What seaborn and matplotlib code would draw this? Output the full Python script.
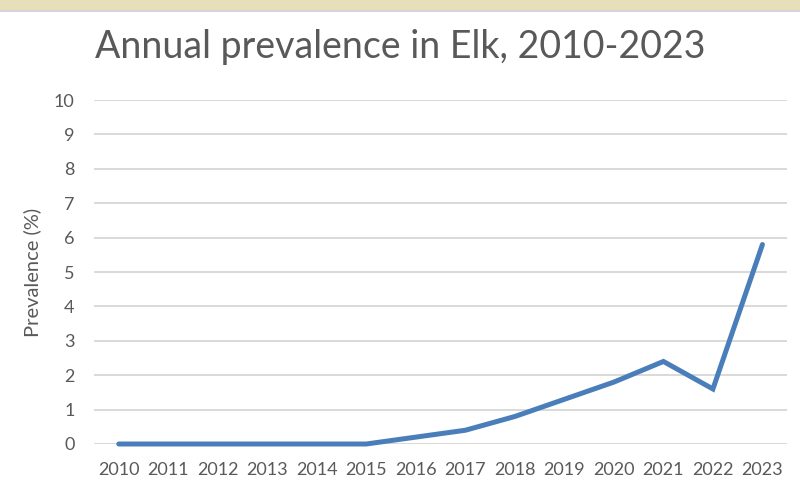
import matplotlib
matplotlib.use("Agg")
import matplotlib.pyplot as plt
from matplotlib.patches import Rectangle
import seaborn as sns
import pandas as pd

years = ["2010", "2011", "2012", "2013", "2014", "2015", "2016",
         "2017", "2018", "2019", "2020", "2021", "2022", "2023"]
prevalence = [0, 0, 0, 0, 0, 0, 0.2, 0.4, 0.8, 1.3, 1.8, 2.4, 1.6, 5.8]
y_ticks = list(range(0, 11))

df = pd.DataFrame({"year": years, "prevalence": prevalence})

sns.set_theme(style="white")
plt.rcParams["font.family"] = ["Lato", "DejaVu Sans"]

text_grey = "#595959"
fig = plt.figure(figsize=(8, 4.93), dpi=100)
ax = fig.add_axes([0.1175, 0.0994, 0.8665, 0.6976])

# decorative band along the top edge
fig.patches.append(Rectangle((0, 1 - 10 / 493), 1, 10 / 493, transform=fig.transFigure,
                             facecolor="#E6DFBA", edgecolor="none", zorder=0))
fig.patches.append(Rectangle((0, 1 - 12 / 493), 1, 2 / 493, transform=fig.transFigure,
                             facecolor="#D4D6DE", edgecolor="none", zorder=0))

sns.lineplot(data=df, x="year", y="prevalence", ax=ax, color="#4A7EBB",
             linewidth=3.6, sort=False, clip_on=False, zorder=3)
for line in ax.lines:
    line.set_solid_capstyle("round")
    line.set_solid_joinstyle("miter")

ax.set_xlim(-0.5, len(years) - 0.5)
ax.set_ylim(0, 10)
ax.set_yticks(y_ticks)
ax.set_yticklabels([str(t) for t in y_ticks])
for t in y_ticks:
    ax.axhline(t, color="#D9D9D9", linewidth=1.4, zorder=1)

for s in ax.spines.values():
    s.set_visible(False)
ax.tick_params(axis="y", length=0, pad=14, labelsize=13, labelcolor=text_grey)
ax.tick_params(axis="x", length=0, pad=13, labelsize=13, labelcolor=text_grey)

ax.set_xlabel("")
ax.set_ylabel("Prevalence (%)", fontsize=14.5, color=text_grey, labelpad=9)

fig.text(0.5, 1 - 47 / 493, "Annual prevalence in Elk, 2010-2023",
         ha="center", va="center", fontsize=27, color=text_grey)

fig.savefig("out.png", dpi=100)
